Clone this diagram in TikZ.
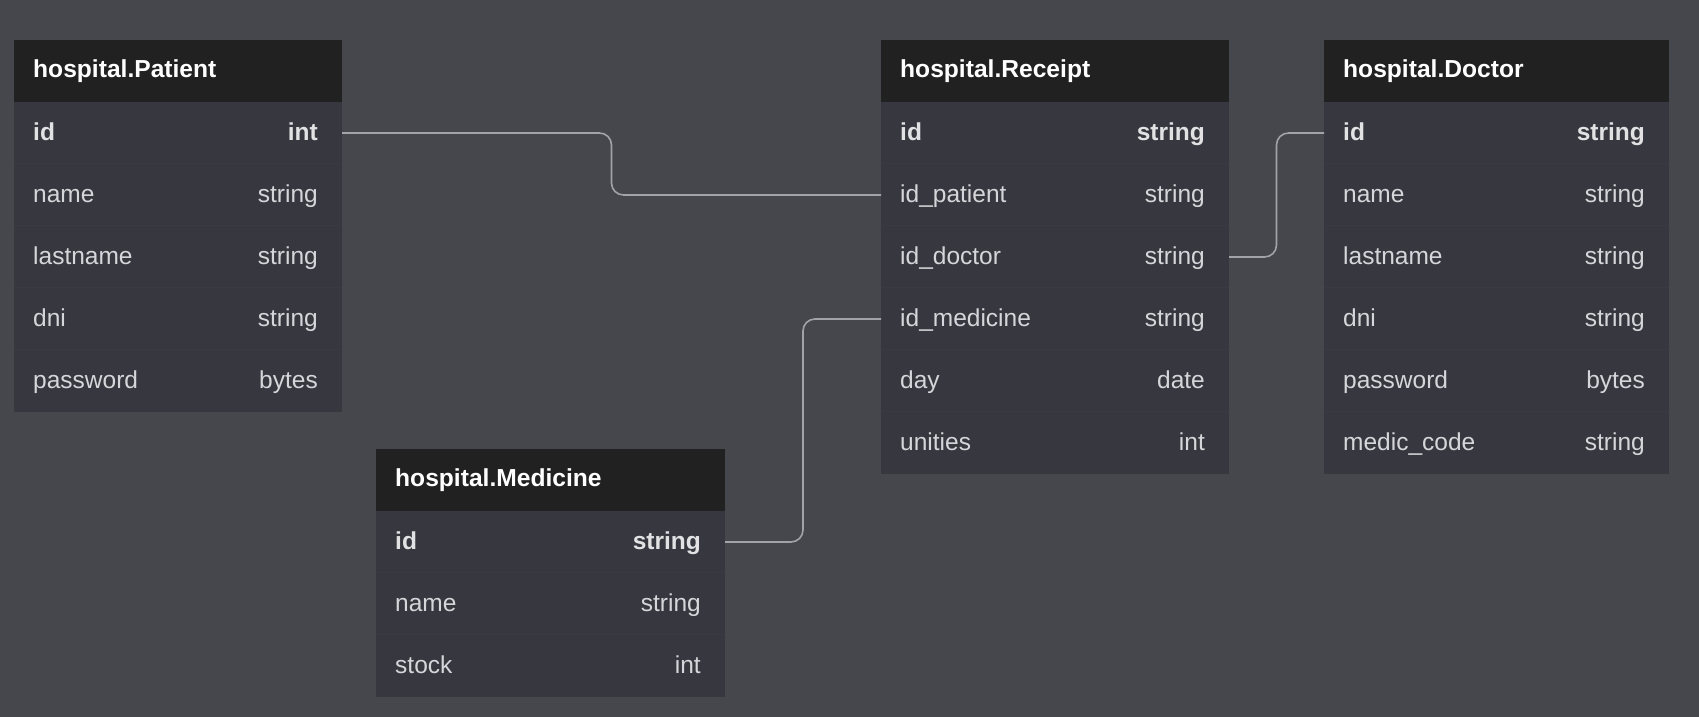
\documentclass[tikz,border=0pt]{standalone}
\usepackage{fontspec}
\setmainfont{Liberation Sans}
\usetikzlibrary{calc}
\definecolor{bgc}{HTML}{46474C}
\definecolor{hdrc}{HTML}{212121}
\definecolor{rowc}{HTML}{37373F}
\definecolor{sepc}{HTML}{3A3A42}
\definecolor{fldc}{HTML}{D6D6DA}
\definecolor{idc}{HTML}{E2E2E4}
\definecolor{linec}{HTML}{A2A2A8}
\tikzset{
  hdrbox/.style={rectangle, fill=hdrc, draw=none, minimum height=62pt, inner sep=0pt, outer sep=0pt},
  rowbox/.style={rectangle, fill=rowc, draw=none, minimum height=62pt, inner sep=0pt, outer sep=0pt},
  ttl/.style={text=white, inner sep=0pt, font=\fontsize{24.6}{28}\selectfont\bfseries},
  fld/.style={text=fldc, inner sep=0pt, font=\fontsize{24.5}{28}\selectfont},
  fldid/.style={text=idc, inner sep=0pt, font=\fontsize{24.5}{28}\selectfont\bfseries},
  sepline/.style={draw=sepc, line width=1pt},
  conn/.style={draw=linec, line width=1.6pt, rounded corners=12pt},
}
\newcommand{\ertab}[6]{%
  \node[hdrbox, minimum width=#4pt, anchor=north west] (#1) at (#2,#3) {};
  \node[ttl, anchor=base west] (#1-t) at ($(#1.west)+(19,-7)$) {#5};
  \foreach \fnm/\ftp [count=\i] in {#6}{%
    \node[rowbox, minimum width=#4pt, anchor=north west] (#1-\i) at ($(#1.south west)+(0,{-62*(\i-1)})$) {};
    \ifnum\i>1
      \draw[sepline] (#1-\i.north west) -- (#1-\i.north east);
      \node[fld, anchor=base west] (#1-\i-n) at ($(#1-\i.west)+(19,-7.5)$) {\fnm};
      \node[fld, anchor=base east] (#1-\i-t) at ($(#1-\i.east)+(-24,-7.5)$) {\ftp};
    \else
      \node[fldid, anchor=base west] (#1-\i-n) at ($(#1-\i.west)+(19,-7.5)$) {\fnm};
      \node[fldid, anchor=base east] (#1-\i-t) at ($(#1-\i.east)+(-24,-7.5)$) {\ftp};
    \fi
  }%
}
\begin{document}
\begin{tikzpicture}[x=1pt,y=1pt]
  \useasboundingbox[fill=bgc] (0,0) rectangle (1699,717);
  \ertab{pat}{14}{677}{328}{hospital.Patient}{id/int, name/string, lastname/string, dni/string, password/bytes}
  \ertab{rec}{881}{677}{348}{hospital.Receipt}{id/string, id\_patient/string, id\_doctor/string, id\_medicine/string, day/date, unities/int}
  \ertab{doc}{1324}{677}{345}{hospital.Doctor}{id/string, name/string, lastname/string, dni/string, password/bytes, medic\_code/string}
  \ertab{med}{376}{268}{349}{hospital.Medicine}{id/string, name/string, stock/int}
  \coordinate (m1) at ($(pat-1.east)!0.5!(rec-2.west)$);
  \coordinate (m2) at ($(doc-1.west)!0.5!(rec-3.east)$);
  \coordinate (m3) at ($(med-1.east)!0.5!(rec-4.west)$);
  \draw[conn] (pat-1.east) -| (m1) |- (rec-2.west);
  \draw[conn] (doc-1.west) -| (m2) |- (rec-3.east);
  \draw[conn] (med-1.east) -| (m3) |- (rec-4.west);
\end{tikzpicture}
\end{document}
